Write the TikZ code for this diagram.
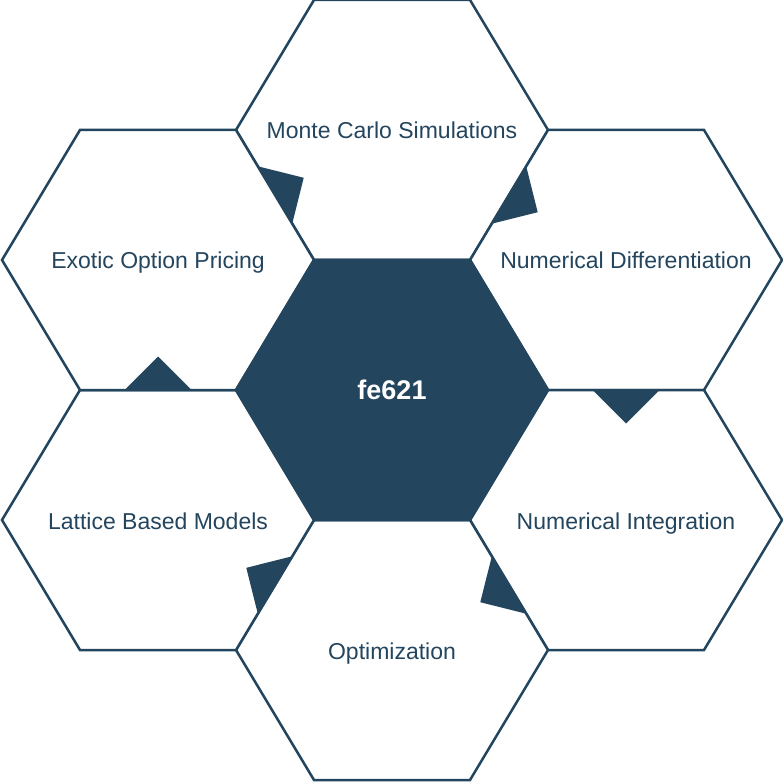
\documentclass[tikz,border=0pt]{standalone}
\usepackage{fontspec}
\setmainfont{Liberation Sans}
\definecolor{hexblue}{HTML}{24455E}
\begin{document}
\begin{tikzpicture}[x=1pt,y=-1pt,
  hexline/.style={draw=hexblue,line width=2.5pt,line join=miter},
  lbl/.style={anchor=base,text=hexblue,font=\fontsize{23}{26}\selectfont,inner sep=0pt},
  tab/.style={fill=hexblue,draw=none}]
\useasboundingbox (0,0) rectangle (783,783);
\fill[white] (0,0) rectangle (783,783);
\newcommand{\hexat}[3]{%
  \path[#3] (#1-156,#2) -- (#1-78,#2-130) -- (#1+78,#2-130) -- (#1+156,#2)
     -- (#1+78,#2+130) -- (#1-78,#2+130) -- cycle;}
% outer hexagons
\hexat{392}{130}{hexline,fill=white}
\hexat{626}{260}{hexline,fill=white}
\hexat{626}{520}{hexline,fill=white}
\hexat{392}{650}{hexline,fill=white}
\hexat{158}{520}{hexline,fill=white}
\hexat{158}{260}{hexline,fill=white}
% centre hexagon
\hexat{392}{390}{hexline,fill=hexblue}
% tabs
\path[tab] (257.8,166.3) -- (303.7,177.8) -- (292.2,223.7) -- cycle;
\path[tab] (526.2,166.3) -- (537.7,212.2) -- (491.8,223.7) -- cycle;
\path[tab] (592.5,390) -- (626,423.5) -- (659.5,390) -- cycle;
\path[tab] (526.2,613.7) -- (480.3,602.2) -- (491.8,556.3) -- cycle;
\path[tab] (292.2,556.3) -- (246.3,567.8) -- (257.8,613.7) -- cycle;
\path[tab] (124.5,390) -- (158,356.5) -- (191.5,390) -- cycle;
% labels
\node[lbl] (mc) at (392,139) {Monte Carlo Simulations};
\node[lbl] (nd) at (626,269) {Numerical Differentiation};
\node[lbl] (ni) at (626,529) {Numerical Integration};
\node[lbl] (op) at (392,659) {Optimization};
\node[lbl] (lb) at (158,529) {Lattice Based Models};
\node[lbl] (eo) at (158,269) {Exotic Option Pricing};
\node[anchor=base,text=white,font=\fontsize{27}{30}\selectfont\bfseries,inner sep=0pt] (fe) at (392,399) {fe621};
\end{tikzpicture}
\end{document}
